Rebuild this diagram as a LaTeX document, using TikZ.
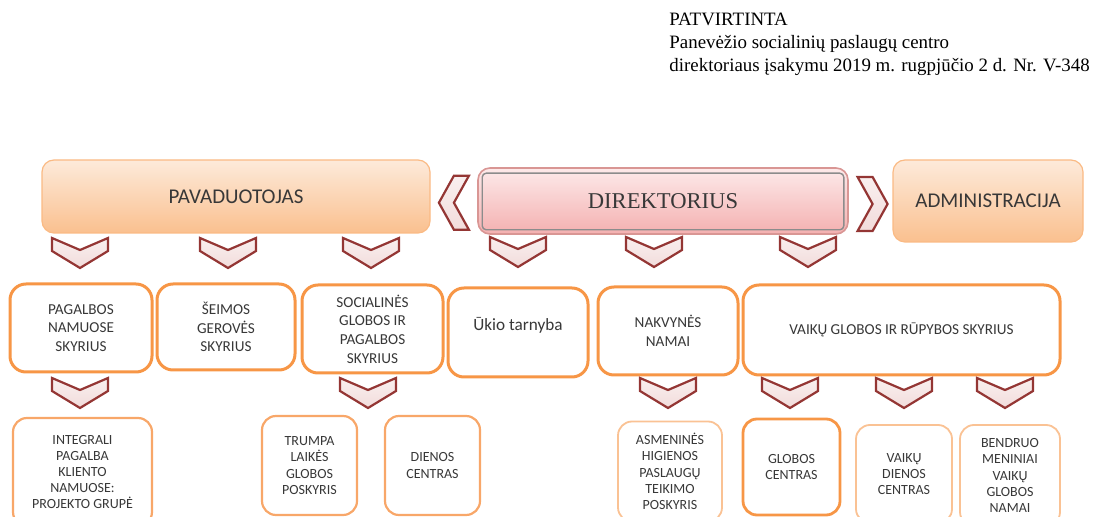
\documentclass[tikz,border=0pt]{standalone}
\usepackage{fontspec}
\setmainfont{Liberation Serif}
\newfontfamily\calibri{Carlito}
\usetikzlibrary{calc}

\definecolor{orangeline}{HTML}{F79646}
\definecolor{orangemid}{HTML}{F8A769}
\definecolor{orangesoft}{HTML}{FAC294}
\definecolor{orangetop}{HTML}{FDEADA}
\definecolor{orangebot}{HTML}{FAC08F}
\definecolor{pinktop}{HTML}{FDEAEA}
\definecolor{pinkbot}{HTML}{F4B0B0}
\definecolor{pinkline}{HTML}{D99694}
\definecolor{chevred}{HTML}{943634}
\definecolor{chevfill}{HTML}{F2DCDB}
\definecolor{textgray}{HTML}{383838}

\tikzset{
  head/.style={rounded corners=6pt, draw=orangebot!85!orangeline, line width=0.6pt,
    top color=orangetop, bottom color=orangebot, text=textgray,
    font=\calibri\fontsize{10.5}{12}\selectfont},
  dept/.style={rounded corners=8pt, draw=orangeline, line width=1.5pt, fill=white,
    text=textgray, align=center, font=\calibri\fontsize{7.6}{9.3}\selectfont},
  unit/.style={rounded corners=7pt, draw=orangemid, line width=1.1pt, fill=white,
    text=textgray, align=center, font=\calibri\fontsize{7}{8.1}\selectfont},
  chev/.style={draw=chevred, line width=1.1pt, top color=white!55!chevfill, bottom color=chevfill, line join=miter},
  chevdown/.pic={\draw[chev] (-28,0) -- (0,12) -- (28,0) -- (28,13) -- (0,30) -- (-28,13) -- cycle;},
  chevleft/.pic={\draw[chev] (0,-27) -- (15,-27) -- (0,0) -- (15,27) -- (0,27) -- (-15,0) -- cycle;},
  chevright/.pic={\draw[chev] (0,-27) -- (-15,-27) -- (0,0) -- (-15,27) -- (0,27) -- (15,0) -- cycle;},
}

\begin{document}
\begin{tikzpicture}[x=0.5pt, y=-0.5pt]
    \useasboundingbox (0,0) rectangle (1101,517);
    \clip (0,0) rectangle (1101,517);

    \node (appr) at (669,13) [anchor=north west, inner sep=0, align=left, font=\fontsize{9.45}{11.4}\selectfont]
        {PATVIRTINTA\\Panevėžio socialinių paslaugų centro\\direktoriaus įsakymu 2019 m. rugpjūčio 2 d. Nr. V-348};

    % top row
    \node (pav) at (236,196.5) [head, minimum width=194pt, minimum height=36.5pt] {PAVADUOTOJAS};
    \node (dir) at (663,201) [rounded corners=6pt, draw=pinkline, line width=0.8pt, top color=pinktop, bottom color=pinkbot,
        minimum width=185pt, minimum height=33pt, text=textgray, font=\fontsize{11.3}{13}\selectfont] {DIREKTORIUS};
    \draw [rounded corners=2pt, draw=black!45, line width=0.7pt] ($(dir.south west)+(5,-5)$) rectangle ($(dir.north east)+(-5,6)$);
    \node (adm) at (988,201) [head, minimum width=95pt, minimum height=41pt] {ADMINISTRACIJA};

    \pic at ($(pav.east)!0.5!(dir.west)+(0,4)$) {chevleft};
    \pic at ($(dir.east)!0.5!(adm.west)+(2,3)$) {chevright};

    \pic at (80,238) {chevdown};
    \pic at (228,238) {chevdown};
    \pic at (371,238) {chevdown};
    \pic at (518,237) {chevdown};
    \pic at (654,237) {chevdown};
    \pic at (808,237) {chevdown};

    % departments
    \node (pns) at (81,328) [dept, minimum width=71pt, minimum height=44pt] {PAGALBOS\\NAMUOSE\\SKYRIUS};
    \node (sgs) at (226,327) [dept, minimum width=69pt, minimum height=43pt] {ŠEIMOS\\GEROVĖS\\SKYRIUS};
    \node (sgps) at (372.5,329) [dept, minimum width=70.5pt, minimum height=44pt] {SOCIALINĖS\\GLOBOS IR\\PAGALBOS\\SKYRIUS};
    \node (ukio) at (518,332.5) [dept, minimum width=70pt, minimum height=44.5pt] {};
    \node (ukiolbl) at ([yshift=3.75pt]ukio.center) [text=textgray, font=\calibri\fontsize{8.6}{10}\selectfont] {Ūkio tarnyba};
    \node (nakv) at (668,331) [dept, minimum width=70pt, minimum height=44pt] {NAKVYNĖS\\NAMAI};
    \node (vgrs) at (901.5,330) [dept, minimum width=158.5pt, minimum height=45pt] {VAIKŲ GLOBOS IR RŪPYBOS SKYRIUS};

    \pic at (80,378) {chevdown};
    \pic at (368,378) {chevdown};
    \pic at (668,378) {chevdown};
    \pic at (790,378) {chevdown};
    \pic at (904,378) {chevdown};
    \pic at (1005,378) {chevdown};

    % units
    \node (integ) at (82.5,472) [unit, minimum width=69.5pt, minimum height=54pt] {INTEGRALI\\PAGALBA\\KLIENTO\\NAMUOSE:\\PROJEKTO GRUPĖ};
    \node (trump) at (309.5,465.5) [unit, minimum width=47.5pt, minimum height=49.5pt] {TRUMPA\\LAIKĖS\\GLOBOS\\POSKYRIS};
    \node (dcen) at (432.5,465.5) [unit, minimum width=47.5pt, minimum height=49.5pt] {DIENOS\\CENTRAS};
    \node (asmen) at (670,471.5) [unit, draw=orangesoft, line width=0.9pt, minimum width=52pt, minimum height=50pt]
        {ASMENINĖS\\HIGIENOS\\PASLAUGŲ\\TEIKIMO\\POSKYRIS};
    \node (gcen) at (791.5,467) [unit, draw=orangeline, line width=1.4pt, minimum width=48.5pt, minimum height=48pt] {GLOBOS\\CENTRAS};
    \node (vdc) at (904,474) [unit, draw=orangesoft, line width=0.9pt, minimum width=48pt, minimum height=49pt] {VAIKŲ\\DIENOS\\CENTRAS};
    \node (bend) at (1010,475.5) [unit, draw=orangesoft, line width=0.9pt, minimum width=50pt, minimum height=50.5pt]
        {BENDRUO\\MENINIAI\\VAIKŲ\\GLOBOS\\NAMAI};
\end{tikzpicture}
\end{document}
